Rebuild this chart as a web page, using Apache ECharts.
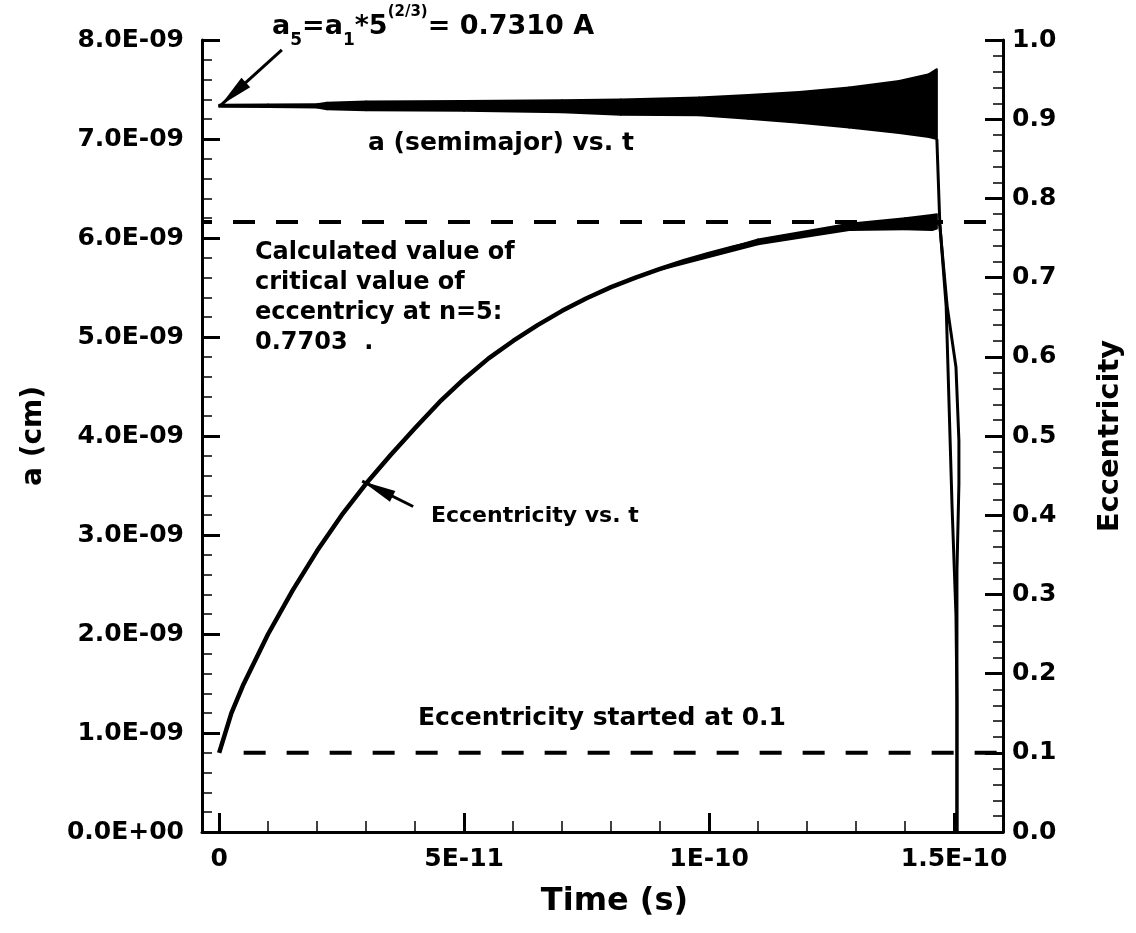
<!DOCTYPE html>
<html><head><meta charset="utf-8">
<script src="https://cdn.jsdelivr.net/npm/echarts@6/dist/echarts.min.js"></script>
<style>html,body{margin:0;padding:0;background:#fff}#c{width:1136px;height:933px}</style>
</head><body><div id="c"></div>
<script>
const FONT = '"DejaVu Sans", "Liberation Sans", Arial, sans-serif';

// ---- axes / ticks ----
const xMin = -3.5e-12, xMax = 1.6e-10;
const xTickValues = [0, 5e-11, 1e-10, 1.5e-10];
const xTickLabels = ['0', '5E-11', '1E-10', '1.5E-10'];
const xMinorTicks = [1e-11, 2e-11, 3e-11, 4e-11, 6e-11, 7e-11, 8e-11, 9e-11, 1.1e-10, 1.2e-10, 1.3e-10, 1.4e-10];
const yLeftLabels = ['0.0E+00', '1.0E-09', '2.0E-09', '3.0E-09', '4.0E-09', '5.0E-09', '6.0E-09', '7.0E-09', '8.0E-09'];
const yRightLabels = ['0.0', '0.1', '0.2', '0.3', '0.4', '0.5', '0.6', '0.7', '0.8', '0.9', '1.0'];

// ---- semimajor axis a(t): oscillation envelope (s, cm) ----
const aBandTime  = [0, 1e-11, 2e-11, 2.2e-11, 3e-11, 5e-11, 7e-11, 8.2e-11, 9.8e-11, 1.08e-10, 1.184e-10, 1.286e-10, 1.388e-10, 1.449e-10, 1.465e-10];
const aBandUpper = [7.345e-9, 7.348e-9, 7.352e-9, 7.365e-9, 7.38e-9, 7.385e-9, 7.392e-9, 7.40e-9, 7.42e-9, 7.445e-9, 7.475e-9, 7.52e-9, 7.585e-9, 7.655e-9, 7.705e-9];
const aBandLower = [7.325e-9, 7.322e-9, 7.318e-9, 7.30e-9, 7.29e-9, 7.285e-9, 7.27e-9, 7.245e-9, 7.24e-9, 7.205e-9, 7.165e-9, 7.115e-9, 7.06e-9, 7.02e-9, 7.0e-9];
// collapse of a(t)
const aDropTime = [1.465e-10, 1.471e-10, 1.484e-10, 1.490e-10, 1.496e-10, 1.504e-10, 1.506e-10, 1.506e-10];
const aDrop     = [7.0e-9, 6.15e-9, 5.31e-9, 4.30e-9, 3.29e-9, 2.19e-9, 1.33e-9, 0];

// ---- eccentricity e(t) ----
const eTime = [0, 0.25e-11, 0.5e-11, 1e-11, 1.5e-11, 2e-11, 2.5e-11, 3e-11, 3.5e-11, 4e-11, 4.5e-11, 5e-11, 5.5e-11, 6e-11, 6.5e-11, 7e-11, 7.5e-11, 8e-11, 8.5e-11, 9e-11, 9.5e-11, 1e-10, 1.05e-10, 1.1e-10, 1.15e-10, 1.2e-10, 1.25e-10, 1.3e-10, 1.35e-10, 1.4e-10, 1.45e-10, 1.465e-10];
const eVal  = [0.100, 0.150, 0.187, 0.250, 0.305, 0.355, 0.400, 0.440, 0.476, 0.510, 0.543, 0.572, 0.598, 0.620, 0.640, 0.658, 0.674, 0.688, 0.700, 0.711, 0.721, 0.730, 0.738, 0.745, 0.751, 0.756, 0.760, 0.763, 0.766, 0.768, 0.770, 0.771];
// oscillation envelope of e near the end
const eBandTime  = [9e-11, 1.1e-10, 1.286e-10, 1.4e-10, 1.455e-10, 1.465e-10];
const eBandUpper = [0.712, 0.748, 0.768, 0.775, 0.779, 0.780];
const eBandLower = [0.710, 0.742, 0.760, 0.761, 0.760, 0.762];
// collapse of e(t)
const eDropTime = [1.465e-10, 1.471e-10, 1.486e-10, 1.504e-10, 1.510e-10, 1.510e-10, 1.506e-10, 1.506e-10];
const eDrop     = [0.771, 0.766, 0.664, 0.587, 0.494, 0.439, 0.330, 0.0];

// ---- reference lines ----
const eCritical = 0.7703;
const eCriticalSpan = [xMin, xMax];
const eStart = 0.1;
const eStartSpan = [0.5e-11, xMax];

// ---- arrows (data coords) ----
const arrowA = [[1.28e-11, 7.9e-9], [0.03e-11, 7.34e-9]];
const arrowE = [[3.96e-11, 0.411], [2.92e-11, 0.443]];

const pairs = (xs, ys) => xs.map((x, i) => [x, ys[i]]);

function bandSeries(times, lower, upper, yIdx) {
  return {
    type: 'custom', xAxisIndex: 0, yAxisIndex: yIdx, silent: true, z: 3,
    data: times.slice(0, -1).map((t, i) => [t, lower[i]]),
    encode: { x: 0, y: 1 },
    renderItem: (params, api) => {
      const i = params.dataIndex;
      const pts = [
        api.coord([times[i], lower[i]]), api.coord([times[i + 1], lower[i + 1]]),
        api.coord([times[i + 1], upper[i + 1]]), api.coord([times[i], upper[i]])
      ];
      return { type: 'polygon', shape: { points: pts }, style: { fill: '#000', stroke: '#000', lineWidth: 2, lineJoin: 'round' } };
    }
  };
}

const axisFont = { color: '#000', fontFamily: FONT, fontWeight: 'bold' };
const chart = echarts.init(document.getElementById('c'), null, { renderer: 'canvas' });
const option = {
  animation: false,
  backgroundColor: '#fff',
  grid: { left: 202, right: 133, top: 40, bottom: 101, containLabel: false },
  xAxis: [
    {
      type: 'value', min: xMin, max: xMax, position: 'bottom',
      axisLine: { show: true, onZero: false, lineStyle: { color: '#000', width: 3 } },
      axisTick: { show: true, inside: true, length: 19, lineStyle: { color: '#000', width: 3 }, customValues: xTickValues },
      axisLabel: {
        customValues: xTickValues, ...axisFont, fontSize: 25, margin: 15,
        formatter: v => { let b = 0; xTickValues.forEach((t, i) => { if (Math.abs(t - v) < Math.abs(xTickValues[b] - v)) b = i; }); return xTickLabels[b]; }
      },
      splitLine: { show: false },
      name: 'Time (s)', nameLocation: 'middle', nameGap: 54,
      nameTextStyle: { ...axisFont, fontSize: 32, padding: [0, 0, 0, 24] }
    },
    {
      type: 'value', min: xMin, max: xMax, position: 'bottom', offset: 0,
      axisLine: { show: false, onZero: false },
      axisTick: { show: true, inside: true, length: 11, lineStyle: { color: '#000', width: 1.5 }, customValues: xMinorTicks },
      axisLabel: { show: false }, splitLine: { show: false }
    }
  ],
  yAxis: [
    {
      type: 'value', position: 'left', min: 0, max: 8e-9, interval: 1e-9,
      axisLine: { show: true, onZero: false, lineStyle: { color: '#000', width: 3 } },
      axisTick: { show: true, inside: true, length: 18, lineStyle: { color: '#000', width: 3 } },
      minorTick: { show: true, splitNumber: 5, length: 10, lineStyle: { color: '#000', width: 1.5 } },
      axisLabel: { ...axisFont, fontSize: 25, margin: 18, formatter: v => yLeftLabels[Math.round(v / 1e-9)] },
      splitLine: { show: false },
      name: 'a (cm)', nameLocation: 'middle', nameGap: 154,
      nameTextStyle: { ...axisFont, fontSize: 28 }
    },
    {
      type: 'value', position: 'right', min: 0, max: 1, interval: 0.1,
      axisLine: { show: true, onZero: false, lineStyle: { color: '#000', width: 3 } },
      axisTick: { show: true, inside: true, length: 18, lineStyle: { color: '#000', width: 3 } },
      minorTick: { show: true, splitNumber: 5, length: 10, lineStyle: { color: '#000', width: 1.5 } },
      axisLabel: { ...axisFont, fontSize: 25, margin: 9, formatter: v => yRightLabels[Math.round(v * 10)] },
      splitLine: { show: false },
      name: 'Eccentricity', nameLocation: 'middle', nameGap: 93,
      nameTextStyle: { ...axisFont, fontSize: 29 }
    }
  ],
  series: [
    bandSeries(aBandTime, aBandLower, aBandUpper, 0),
    {
      type: 'line', xAxisIndex: 0, yAxisIndex: 0, data: pairs(aDropTime, aDrop),
      showSymbol: false, symbol: 'none', lineStyle: { color: '#000', width: 3 }, z: 3,
      markLine: {
        silent: true, animation: false, label: { show: false },
        lineStyle: { color: '#000', width: 3, type: 'solid' },
        data: [[
          { coord: arrowA[0], symbol: 'none' },
          { coord: arrowA[1], symbol: 'triangle', symbolSize: [13, 34], symbolOffset: [0, 17] }
        ]]
      }
    },
    {
      type: 'line', xAxisIndex: 0, yAxisIndex: 1, data: pairs(eTime, eVal),
      showSymbol: false, symbol: 'none', lineStyle: { color: '#000', width: 4.5, join: 'round' }, z: 3,
      markLine: {
        silent: true, animation: false, label: { show: false },
        lineStyle: { color: '#000', width: 3, type: 'solid' },
        data: [[
          { coord: arrowE[0], symbol: 'none' },
          { coord: arrowE[1], symbol: 'triangle', symbolSize: [12, 34], symbolOffset: [0, 17] }
        ]]
      }
    },
    bandSeries(eBandTime, eBandLower, eBandUpper, 1),
    {
      type: 'line', xAxisIndex: 0, yAxisIndex: 1, data: pairs(eDropTime, eDrop),
      showSymbol: false, symbol: 'none', lineStyle: { color: '#000', width: 3 }, z: 3
    },
    {
      type: 'line', xAxisIndex: 0, yAxisIndex: 1, data: eCriticalSpan.map(t => [t, eCritical]),
      showSymbol: false, symbol: 'none', lineStyle: { color: '#000', width: 4, type: [22, 21], dashOffset: 12 }, z: 2
    },
    {
      type: 'line', xAxisIndex: 0, yAxisIndex: 1, data: eStartSpan.map(t => [t, eStart]),
      showSymbol: false, symbol: 'none', lineStyle: { color: '#000', width: 4, type: [22, 21] }, z: 2
    }
  ],
  graphic: [
    {
      type: 'text', left: 272, top: 5, silent: true,
      style: {
        text: '{m|a}{sub|5}{m|=a}{sub|1}{m|*5}{sup|(2/3)}{m|= 0.7310 A}',
        fill: '#000',
        rich: {
          m: { fontSize: 27, fontFamily: FONT, fontWeight: 'bold', lineHeight: 44, verticalAlign: 'middle' },
          sub: { fontSize: 17, fontFamily: FONT, fontWeight: 'bold', lineHeight: 19, verticalAlign: 'bottom' },
          sup: { fontSize: 15, fontFamily: FONT, fontWeight: 'bold', lineHeight: 26, verticalAlign: 'top' }
        }
      }
    },
    { type: 'text', left: 368, top: 131, silent: true,
      style: { text: 'a (semimajor) vs. t', fill: '#000', fontSize: 25, fontFamily: FONT, fontWeight: 'bold' } },
    { type: 'text', left: 255, top: 238, silent: true,
      style: { text: 'Calculated value of\ncritical value of\neccentricy at n=5:\n0.7703  .', fill: '#000', fontSize: 24, lineHeight: 30, fontFamily: FONT, fontWeight: 'bold' } },
    { type: 'text', left: 431, top: 505, silent: true,
      style: { text: 'Eccentricity vs. t', fill: '#000', fontSize: 22, fontFamily: FONT, fontWeight: 'bold' } },
    { type: 'text', left: 418, top: 706, silent: true,
      style: { text: 'Eccentricity started at 0.1', fill: '#000', fontSize: 25, fontFamily: FONT, fontWeight: 'bold' } }
  ]
};
chart.setOption(option);
</script>
</body></html>
